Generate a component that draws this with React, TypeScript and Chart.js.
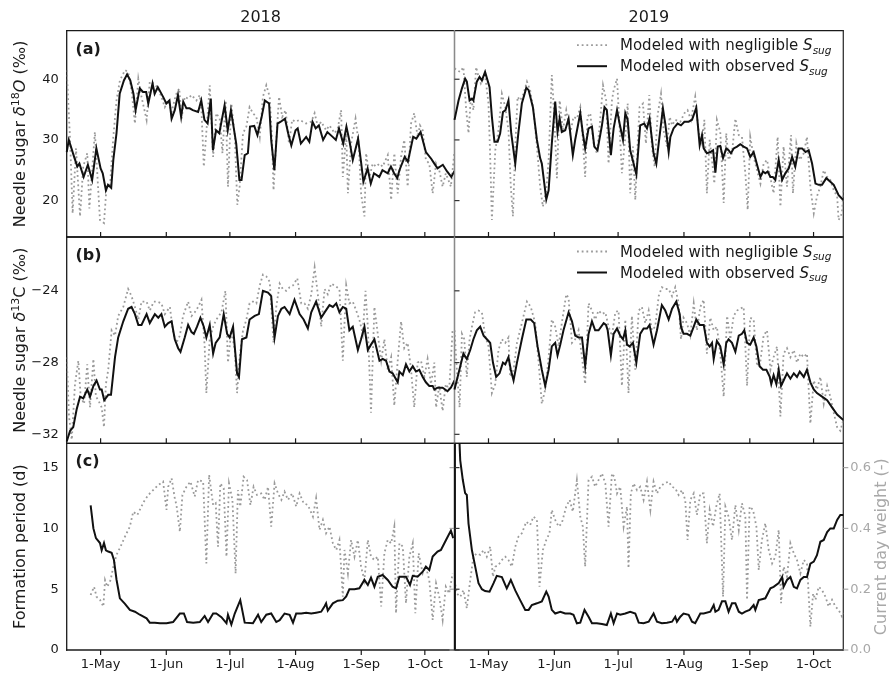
import React, { useEffect, useRef } from 'react';
import { Chart, registerables } from 'chart.js';

Chart.register(...registerables);

const FONT = "'DejaVu Sans', 'Noto Sans', sans-serif";

// ---------------- data (x = days after 15 April, same calendar for 2018 and 2019) ----------------
const monthTickDays = [16, 47, 77, 108, 139, 169];
const monthTickLabels = ['1-May', '1-Jun', '1-Jul', '1-Aug', '1-Sep', '1-Oct'];
const d18OTicks = [20, 30, 40];
const d13CTicks = [-32, -28, -24];
const formationTicks = [0, 5, 10, 15];
const weightTicks = [0, 0.2, 0.4, 0.6];
const yearLabels = ['2018', '2019'];
const panelLetters = ['(a)', '(b)', '(c)'];
const legendNegligible = 'Modeled with negligible ';
const legendObserved = 'Modeled with observed ';

const d18OObserved2018 = [[0,28.0],[1,30.0],[3.5,27.2],[5,25.6],[6,26.1],[8,23.9],[10,25.9],[12,23.4],[14,28.6],[16,25.3],[17,24.5],[18.5,21.7],[19.5,22.6],[21,22.1],[22,26.7],[23.5,31.1],[25,37.6],[27,39.8],[28.5,40.8],[30,39.8],[31.5,37.6],[32.5,34.9],[34.5,38.5],[36,37.9],[37.5,37.9],[38.5,36.0],[40.5,39.3],[41.5,37.6],[43,38.7],[45.5,37.1],[47,36.0],[48.5,36.5],[49.5,33.5],[51,34.9],[52.5,37.4],[54,33.8],[55,36.3],[56.5,35.2],[58,35.2],[59.5,34.9],[62,34.6],[63.5,36.5],[65,33.3],[66.5,32.7],[68,36.8],[69,28.3],[70.5,31.6],[72,31.1],[74.5,35.7],[76,31.6],[77.5,34.9],[80,29.4],[81.5,23.4],[82.5,23.4],[84,27.5],[85.5,27.8],[86.5,32.2],[88.5,32.3],[90,30.8],[92,33.8],[93.5,36.5],[95.5,36.0],[96.5,30.0],[98,25.0],[99.5,32.7],[101,33.0],[103,33.5],[104.5,31.1],[106,29.1],[108,31.6],[109,31.9],[110.5,29.4],[113,30.5],[114.5,29.7],[116,33.0],[117.5,31.9],[119,32.4],[121,30.0],[123,31.3],[125.5,30.5],[127,30.0],[128.5,31.9],[130.5,29.4],[132,32.2],[133.5,29.7],[135,26.7],[137.5,30.2],[139,26.1],[140,23.1],[142,25.3],[143.5,22.8],[145,24.5],[147.5,23.9],[149,25.0],[151.5,24.5],[153,25.6],[154.5,24.5],[156,23.7],[157,25.0],[159.5,27.2],[161,26.4],[163.5,30.5],[165,30.2],[167,31.3],[169.5,28.0],[172,26.9],[173.5,26.1],[175,25.3],[177.5,25.9],[179.5,24.8],[181.5,23.9],[183,24.9]];
const d18ONegligible2018 = [[0,41.5],[1.6,30],[2.8,17.9],[4.4,28.6],[6.3,17.4],[7.8,25.6],[9.7,27.8],[10.7,18.7],[13.3,31.3],[15.7,16.8],[17.6,16.3],[18.8,22.3],[20.4,22.3],[22,30.5],[23.5,36.5],[25.1,39.8],[27.5,41.5],[29,41.2],[30.6,38.2],[32.2,32.7],[33.8,40.1],[35.3,37.1],[37.7,33.3],[39.2,39.6],[41.1,39.3],[42.7,38.7],[44.7,37.1],[46.3,35.4],[47.9,36.5],[49.5,34.6],[51.5,37.4],[53.1,38.5],[54.2,33.5],[55.7,37.1],[57.3,36.8],[58.9,37.4],[61.2,36.5],[62.8,37.4],[63.6,34.9],[64.7,25.6],[66.2,32.7],[67.5,39.0],[69.1,27.2],[70.6,34.4],[72.2,33.5],[73.5,27.8],[75,36.5],[76.1,22.3],[77.7,36.0],[79.3,30.8],[80.5,19.3],[81.6,22.3],[83.2,31.1],[84.8,32.2],[86.3,35.4],[87.9,34.4],[89.5,33.8],[91.1,30.5],[92.6,37.1],[94.2,39.0],[95.8,37.1],[96.9,30.0],[97.6,21.7],[98.9,30.0],[100.2,37.1],[101.7,33.8],[103.3,34.9],[104.9,29.4],[106.4,33.3],[108,33.0],[109.9,33.3],[111.5,33.0],[113,32.7],[115.4,33.0],[117,34.4],[118.5,32.2],[120.1,33.0],[122.4,31.6],[124,32.4],[126.4,31.1],[127.9,31.9],[129.5,34.9],[130.3,23.9],[131.9,31.1],[132.7,21.2],[134.2,29.4],[136.3,33.5],[137.8,29.4],[138.9,21.2],[140.5,17.4],[141.3,27.8],[142.9,23.9],[144.4,26.1],[146,25.6],[147.6,26.1],[149.1,25.6],[151.5,27.5],[153.1,20.1],[154.6,27.8],[156.2,21.2],[157.8,27.2],[159.3,30.0],[160.9,22.3],[162.5,32.7],[164,34.4],[165.6,30.5],[166.7,32.4],[168,31.6],[169.5,26.7],[171.1,26.1],[172.7,21.2],[174.3,26.1],[175.8,25.0],[177.4,22.3],[178.9,24.5],[181.3,22.3],[182.9,27.8]];
const d18OObserved2019 = [[0,33.3],[1.9,36.5],[3.5,38.5],[5,40.1],[5.8,39.6],[7.1,36.5],[8.2,36.8],[8.9,36.5],[10.5,39.6],[11.8,40.4],[12.9,39.8],[14.4,41.2],[16.5,38.7],[17.6,33.8],[18.8,29.7],[20.3,29.7],[21.5,31.1],[22.8,34.6],[24,34.9],[25.4,36.5],[26.7,31.1],[28.6,26.1],[30.1,31.3],[31.7,36.0],[33.8,38.6],[34.9,38.2],[36.9,35.4],[38.8,30.0],[40.3,27.0],[41.1,26.1],[43.2,20.2],[44.3,21.7],[45.8,29.4],[47.4,36.3],[48.5,31.3],[49.5,33.5],[50.5,31.3],[52.1,31.6],[53.7,33.5],[55.7,27.5],[56.8,30.0],[59.2,34.4],[60.4,31.1],[61.5,28.6],[63.1,31.9],[64.7,32.2],[65.8,28.9],[67.3,28.3],[69.4,32.4],[70.6,35.4],[71.7,34.9],[73.6,27.5],[74.9,31.9],[76.5,34.9],[77.7,32.7],[79.3,30.0],[80.4,34.4],[81.5,33.3],[82.7,28.3],[84.3,26.1],[85.6,24.3],[87.4,32.4],[89.3,32.7],[90.6,31.9],[91.8,33.5],[93.7,27.8],[95,26.1],[96.1,29.4],[98.1,35.2],[99.2,32.7],[100.8,28.0],[101.6,30.5],[103.1,31.9],[105,32.7],[106.6,32.4],[108.2,33.0],[110.2,33.0],[111.8,33.3],[113.8,35.3],[115.4,29.1],[116.5,30.8],[117.3,28.6],[118.8,27.8],[120.4,28.0],[121.7,28.3],[122.8,24.6],[123.9,28.9],[125.1,29.0],[126.4,27.0],[127.9,28.6],[129,28.3],[130.1,27.8],[131.4,28.6],[133,28.9],[134.5,29.3],[136.1,28.9],[137.7,28.6],[139.2,27.2],[140.8,28.0],[142.4,25.9],[144,23.9],[145.2,24.8],[146.3,24.5],[147.4,24.8],[148.7,23.9],[149.8,23.9],[151,23.4],[152.6,26.7],[154.2,23.4],[155.7,24.5],[157.3,25.3],[158.9,27.2],[160.4,25.6],[162,28.6],[163.6,28.6],[165.2,28.0],[166.7,28.3],[168.3,26.1],[169.9,22.8],[171.4,22.6],[173,22.6],[175,23.7],[176.9,23.1],[178.5,22.6],[180.8,20.9],[183,20.1]];
const d18ONegligible2019 = [[0,41.8],[1.1,41.5],[2.7,41.2],[4.2,42.0],[5.5,34.9],[6.6,31.1],[7.7,37.1],[8.9,34.9],[10.2,42.0],[11.3,40.4],[12.4,39.3],[14.4,40.7],[16,36.0],[16.8,27.2],[17.6,16.8],[19.2,28.3],[20.7,31.6],[22.3,37.6],[23.9,35.4],[25.4,31.6],[26.5,22.3],[27.5,17.4],[28.6,28.9],[29.7,37.1],[30.9,36.5],[32.5,37.6],[34.1,39.6],[35.6,38.2],[37.2,34.9],[38.8,28.9],[40.3,22.3],[41.6,19.0],[43.2,21.7],[44.3,26.7],[45.8,40.7],[46.9,34.4],[48.2,23.7],[49.5,36.5],[51,31.6],[52.6,34.9],[54.5,31.1],[56,33.8],[57.6,33.5],[59.2,35.4],[60.4,30.0],[61.5,23.9],[62.6,33.8],[63.9,34.4],[65.5,29.4],[67,27.8],[68.3,32.2],[69.9,39.0],[71.4,36.5],[72.5,26.1],[74.1,36.5],[74.9,38.2],[76.5,40.1],[78,30.0],[78.8,24.5],[80.4,30.5],[81.5,36.0],[82.7,21.2],[84,28.9],[85.1,20.1],[86.2,29.4],[87.1,35.4],[88.7,36.0],[90.1,29.4],[91.7,37.4],[92.9,28.9],[94.2,25.6],[95.6,34.1],[97.2,37.6],[98.4,31.6],[100,28.9],[101.3,33.8],[102.4,32.4],[103.9,33.3],[106.3,33.0],[108.2,34.4],[109.7,34.9],[111.3,33.3],[113.3,37.1],[114.9,31.3],[116.5,29.4],[117.6,33.3],[118.8,21.2],[120.1,30.0],[121.2,26.7],[122.3,22.8],[123.5,33.3],[125.1,31.3],[126.7,19.6],[127.9,31.1],[129,26.7],[130.6,27.8],[132.2,33.5],[133.8,30.8],[135.3,30.5],[136.9,24.5],[138,18.5],[139.2,30.5],[140.8,27.2],[142.4,25.0],[144,22.8],[145.5,26.1],[147.1,26.7],[148.7,23.7],[150.2,21.2],[152.1,30.5],[153.4,19.0],[154.9,28.9],[156.5,22.3],[158.4,30.8],[159.3,21.2],[160.9,29.4],[162.5,26.7],[164.4,27.8],[165.9,30.5],[167.5,22.3],[169.1,17.9],[170.6,20.7],[172.2,22.3],[173.8,25.0],[175.4,23.9],[176.9,23.4],[178.5,21.7],[180.1,20.7],[180.8,16.8],[182.4,17.9],[183,21.7]];

const d13CObserved2018 = [[0,-32.4],[1.6,-31.8],[3.1,-31.6],[4.7,-30.6],[6.3,-29.9],[7.8,-30.0],[9.7,-29.5],[11,-29.9],[12.6,-29.3],[14.1,-29.0],[15.7,-29.5],[16.5,-29.5],[17.7,-30.1],[19.6,-29.8],[20.9,-29.8],[22.8,-27.7],[24.3,-26.6],[26.7,-25.7],[29,-25.0],[30.6,-24.9],[32.2,-25.3],[33.8,-25.9],[35.3,-25.9],[37.7,-25.3],[39.2,-25.8],[41.6,-25.3],[43.2,-25.5],[44.7,-25.3],[46.3,-26.0],[47.9,-25.8],[49.5,-25.7],[51,-26.7],[52.6,-27.2],[53.7,-27.4],[55.7,-26.6],[57.3,-25.9],[58.9,-26.3],[60,-26.4],[61.5,-26.0],[63.1,-25.5],[64.7,-26.0],[65.9,-26.6],[67.5,-25.9],[69.1,-27.5],[70.3,-26.9],[72.2,-26.6],[74.1,-25.3],[75.7,-26.4],[76.9,-26.6],[78.5,-26.0],[80.4,-28.6],[81.3,-28.8],[82.7,-26.7],[84.8,-26.6],[86.3,-25.6],[88.7,-25.4],[90.7,-25.3],[92.6,-24.0],[95,-24.1],[96.5,-24.3],[98.1,-26.6],[99.7,-25.4],[101.3,-25.0],[102.8,-24.9],[105.2,-25.3],[107.5,-24.5],[109.9,-25.3],[111.8,-25.6],[113.8,-26.1],[115.4,-25.2],[117.7,-24.6],[120.1,-25.5],[121.7,-25.2],[124,-24.8],[125.6,-24.9],[127.2,-24.7],[128.7,-25.2],[130.3,-24.9],[131.9,-25.0],[133.4,-26.2],[135,-26.0],[137.4,-27.3],[138.9,-26.7],[140.5,-26.0],[142.1,-27.3],[143.6,-27.0],[145.2,-26.7],[147.6,-27.9],[149.1,-27.8],[150.7,-27.9],[152.3,-28.5],[153.8,-28.6],[156.2,-29.1],[157,-28.5],[158.6,-28.7],[160.1,-28.1],[161.7,-28.5],[163.3,-28.2],[164.8,-28.5],[166.4,-28.4],[168,-28.8],[169.5,-29.1],[171.1,-29.3],[172.7,-29.3],[173.5,-29.5],[175,-29.4],[177.4,-29.4],[179.7,-29.6],[181.3,-29.4],[183,-29.0]];
const d13CNegligible2018 = [[0,-27.7],[1.1,-31.0],[2.4,-32.3],[3.9,-29.2],[5.5,-27.9],[6.6,-29.9],[8.2,-30.3],[9.7,-28.1],[11,-30.5],[12.6,-27.8],[13.8,-29.9],[14.9,-30.1],[16.5,-30.5],[17.6,-31.6],[18.5,-29.2],[19.6,-28.4],[21.2,-26.2],[22.8,-26.5],[24.3,-25.4],[26.7,-24.9],[29,-23.9],[30.6,-24.3],[32.2,-24.9],[33.8,-25.6],[35.3,-24.6],[37.7,-24.6],[39.2,-25.1],[41.1,-24.6],[42.7,-24.6],[44.7,-24.7],[46.3,-25.3],[48.7,-24.9],[50.2,-26.3],[51.8,-26.9],[53.4,-26.5],[54.9,-25.4],[57.3,-24.6],[58.9,-25.4],[60.4,-25.2],[62,-24.9],[63.6,-24.5],[65.1,-27.1],[65.9,-29.7],[67.5,-26.7],[69.1,-26.0],[70.6,-25.6],[73,-25.2],[74.9,-24.0],[76.1,-28.0],[77.7,-26.2],[79.3,-27.3],[80.4,-29.7],[81.6,-27.7],[83.2,-26.2],[84.8,-25.6],[86.3,-24.7],[87.9,-24.6],[89.5,-24.7],[91.1,-23.7],[92.6,-23.1],[94.2,-23.2],[95.8,-23.5],[97.6,-26.9],[98.9,-24.9],[100.5,-23.6],[102,-23.9],[103.6,-24.0],[105.2,-23.8],[106.8,-23.7],[108.8,-23.3],[110.7,-24.7],[112.2,-24.7],[113.8,-25.0],[115.4,-24.2],[117,-22.7],[118.5,-24.2],[120.1,-26.0],[121.7,-23.9],[123.2,-24.2],[124.8,-23.6],[126.4,-23.7],[128.7,-23.9],[130.3,-27.9],[131.9,-23.7],[133.4,-24.7],[135,-24.6],[136.6,-25.1],[138.1,-25.6],[139.7,-26.4],[141,-24.0],[142.1,-26.0],[143.6,-30.8],[145.2,-24.9],[146.8,-26.4],[148.4,-27.9],[149.9,-26.7],[151.5,-28.4],[153.1,-27.7],[154.6,-30.4],[156.2,-27.9],[157.8,-25.7],[159.3,-27.2],[160.9,-26.9],[162.5,-28.4],[164,-30.5],[165.6,-28.0],[167.2,-27.9],[168.8,-28.8],[170.3,-27.8],[171.9,-29.2],[173.5,-28.0],[174.3,-30.5],[175.8,-29.3],[177.4,-30.7],[178.9,-29.2],[180.5,-29.5],[182.1,-26.2]];
const d13CObserved2019 = [[0,-29.5],[1.9,-28.6],[4.2,-27.5],[5.8,-27.8],[7.4,-27.3],[8.9,-26.7],[10.5,-26.2],[12.1,-26.0],[13.7,-26.5],[16,-26.8],[16.8,-26.9],[18.1,-28.0],[19.6,-28.8],[21.2,-28.6],[22.8,-28.0],[23.9,-28.1],[25.4,-27.7],[26.5,-28.4],[27.8,-29.0],[29.4,-28.0],[31.7,-26.7],[33.8,-25.6],[35.9,-25.6],[37.5,-25.8],[39.1,-27.1],[41.1,-28.4],[42.7,-29.3],[44.3,-28.4],[45.8,-27.1],[47.4,-26.9],[48.5,-27.6],[49.8,-27.0],[51.3,-26.2],[53.7,-25.2],[55.3,-25.7],[56.8,-26.5],[58.4,-26.6],[60,-26.6],[61.5,-28.2],[63.1,-26.4],[64.7,-25.7],[66.2,-26.2],[67.8,-26.2],[70.2,-25.8],[71.3,-25.9],[72.1,-26.2],[73.6,-27.6],[74.9,-26.4],[76.5,-26.1],[78,-26.5],[79.3,-26.7],[80.4,-26.2],[81.2,-27.0],[82.4,-27.1],[84,-26.9],[85.6,-28.0],[87.4,-26.4],[89,-26.1],[90.6,-26.1],[91.8,-25.9],[93.7,-27.0],[95.3,-26.2],[97.6,-24.8],[99.2,-25.1],[100.8,-25.6],[102.4,-25.0],[104.4,-24.6],[106,-25.3],[106.6,-26.0],[107.8,-26.4],[109.4,-26.4],[111,-26.5],[112.6,-26.0],[113.8,-25.6],[115.4,-25.9],[117.3,-25.9],[118.8,-26.9],[120.1,-27.1],[121.2,-26.9],[122,-27.8],[123.5,-26.8],[125.1,-27.1],[126.7,-28.1],[127.9,-26.9],[129,-26.7],[130.6,-26.9],[132.2,-27.4],[133.8,-26.5],[135.3,-26.4],[136.4,-26.2],[137.7,-26.9],[139.2,-27.0],[140.8,-26.6],[142.1,-27.1],[143.6,-28.2],[145.2,-28.4],[146.8,-28.4],[148.4,-28.8],[149.1,-29.2],[150.2,-28.7],[151.5,-29.2],[152.6,-28.4],[153.7,-29.3],[154.9,-29.0],[156.5,-28.6],[158.1,-28.9],[159.7,-28.6],[161.2,-28.8],[162.5,-28.5],[164.4,-28.8],[165.9,-28.4],[167.5,-29.1],[169.1,-29.5],[170.6,-29.7],[173,-29.9],[175.4,-30.1],[177.7,-30.5],[180.1,-30.9],[183,-31.2]];
const d13CNegligible2019 = [[0,-26.2],[1.1,-28.4],[2.4,-30.5],[3.5,-26.4],[4.6,-26.7],[5.8,-28.8],[7.1,-26.7],[8.2,-26.0],[9.7,-25.2],[11.3,-25.1],[12.9,-25.2],[14.4,-26.5],[16,-27.1],[17.6,-29.7],[19.2,-29.2],[20.7,-27.3],[22.3,-26.7],[23.9,-26.9],[25.4,-26.6],[26.2,-28.8],[27.8,-28.4],[29.4,-26.9],[31.7,-25.8],[34.1,-24.6],[35.9,-24.9],[38,-25.8],[39.6,-28.0],[41.1,-30.3],[42.7,-29.5],[44.3,-27.7],[45.8,-25.6],[47.4,-26.0],[49,-27.1],[50.5,-25.8],[52.6,-24.2],[53.7,-24.4],[55.3,-26.9],[56.8,-26.7],[58.4,-26.2],[60,-27.7],[61.5,-29.2],[63.1,-24.7],[64.7,-25.1],[66.2,-25.6],[67.8,-25.1],[69.4,-25.3],[71,-25.2],[72.5,-26.0],[74.1,-26.5],[75.7,-25.2],[77.2,-25.1],[78.8,-29.3],[80.4,-25.6],[81.9,-29.7],[83.5,-25.4],[85.1,-28.4],[86.7,-25.1],[88.2,-24.9],[89.8,-25.8],[91.4,-25.1],[92.9,-26.2],[94.5,-26.0],[96.1,-24.3],[97.6,-23.8],[99.2,-23.9],[100.8,-23.9],[102.4,-24.3],[103.9,-23.8],[105.5,-24.7],[106.6,-26.7],[107.8,-25.5],[109.4,-25.8],[111,-26.5],[112.6,-24.7],[114.1,-26.2],[115.7,-24.9],[117.3,-24.5],[118.8,-27.5],[120.4,-25.5],[122,-26.2],[123.5,-26.0],[125.1,-27.5],[126.7,-29.9],[128.3,-25.4],[129.8,-26.7],[131.4,-25.4],[133,-25.1],[134.5,-25.0],[136.1,-24.9],[137.7,-29.3],[139.2,-25.5],[140.8,-25.6],[142.4,-28.2],[144,-27.9],[145.5,-26.5],[147.1,-26.2],[148.7,-28.4],[150.2,-27.7],[151.8,-27.1],[153.4,-31.0],[154.9,-27.5],[156.5,-27.2],[158.1,-27.7],[159.7,-27.3],[161.2,-28.0],[162.8,-27.5],[164.4,-27.7],[165.9,-27.5],[167.5,-31.4],[169.1,-29.0],[170.6,-29.5],[172.2,-28.8],[173.8,-30.3],[175.4,-29.3],[176.9,-29.9],[178.5,-30.8],[180.1,-31.6],[181.6,-31.8],[183,-31.2]];

const formationPeriod2018 = [[11.3,11.9],[12.6,10.0],[13.8,9.2],[15.7,8.8],[16.5,8.2],[17.6,8.8],[18.5,8.2],[19.6,8.1],[21.2,8.0],[22.3,7.4],[23.5,5.8],[25.1,4.25],[27.5,3.8],[29.8,3.3],[32.2,3.15],[34.5,2.9],[37.7,2.6],[39.2,2.25],[41.6,2.25],[44,2.2],[47.1,2.2],[50.2,2.3],[53.4,3.0],[55.3,3.0],[56.8,2.3],[59.7,2.25],[62.8,2.3],[65.1,2.8],[66.7,2.3],[69.1,3.0],[70.6,3.0],[73,2.7],[75.4,2.2],[76.1,2.9],[77.7,2.1],[79.3,3.0],[81.9,4.1],[84,2.25],[87.9,2.2],[90.3,2.9],[91.8,2.3],[94.2,2.9],[96.5,3.0],[98.9,2.3],[100.5,2.45],[102.8,3.0],[105.2,2.9],[106.8,2.25],[108.3,3.0],[110.7,3.0],[113,3.07],[115.4,3.0],[117.7,3.07],[120.1,3.15],[121.7,3.6],[122.4,3.84],[123.2,3.24],[125.6,3.84],[127.9,4.06],[130.3,4.1],[131.9,4.4],[133.4,5.0],[135.8,5.0],[138.1,5.07],[140.5,5.76],[142.1,5.35],[143.6,5.95],[145.2,5.2],[146.8,6.03],[149.1,6.17],[151.5,5.76],[153.8,5.2],[155.4,5.07],[157,6.03],[158.6,6.03],[160.1,6.03],[162,5.35],[163.3,6.1],[165.6,6.03],[168,6.44],[169.5,6.86],[171.1,6.58],[172.7,7.68],[175,8.09],[176.6,8.23],[179,9.05],[181.3,9.82],[182.4,9.2]];
const currentDayWeight2018 = [[11.3,0.181],[12.9,0.208],[14.1,0.175],[15.7,0.165],[17.3,0.143],[18.1,0.230],[19.2,0.208],[20.7,0.230],[22,0.274],[23.5,0.313],[25.4,0.340],[27.5,0.373],[29.8,0.406],[31.4,0.455],[33.3,0.444],[34.5,0.461],[36.4,0.488],[38.5,0.510],[40.8,0.526],[43.2,0.543],[45.5,0.554],[47.1,0.461],[47.9,0.537],[49.5,0.565],[51,0.499],[51.8,0.477],[53.4,0.389],[54.6,0.510],[56.5,0.537],[58.4,0.554],[60.4,0.505],[62,0.559],[64.4,0.554],[65.9,0.285],[67.2,0.576],[69.1,0.477],[70.3,0.483],[71.4,0.340],[72.5,0.548],[74.1,0.532],[75.4,0.307],[76.6,0.548],[78.2,0.494],[79.7,0.252],[80.8,0.526],[81.9,0.472],[83.5,0.570],[85.1,0.559],[86.7,0.477],[88.2,0.537],[89.8,0.510],[91.8,0.515],[93.4,0.494],[95,0.537],[96.5,0.406],[98.1,0.548],[99.7,0.515],[101.3,0.494],[102.8,0.521],[104.4,0.494],[106.4,0.515],[108.3,0.472],[109.9,0.515],[111.8,0.483],[113.8,0.477],[116.2,0.439],[117.7,0.499],[119.3,0.395],[120.9,0.428],[122.4,0.384],[124,0.406],[125.6,0.351],[127.2,0.329],[128.7,0.362],[130.3,0.175],[131.1,0.329],[132.7,0.252],[134.2,0.362],[135.8,0.307],[137.4,0.362],[138.9,0.274],[140.5,0.230],[142.1,0.362],[143.6,0.307],[145.2,0.296],[146.8,0.307],[148.4,0.143],[149.9,0.318],[151.5,0.362],[153.1,0.351],[154.6,0.406],[155.4,0.121],[157,0.351],[158.6,0.340],[160.1,0.154],[161.7,0.307],[163.3,0.351],[164.5,0.121],[166.1,0.318],[168,0.252],[169.5,0.274],[171.1,0.230],[172.7,0.099],[174.3,0.219],[175.8,0.175],[177.4,0.099],[178.9,0.208],[180.5,0.186],[182.1,0.252]];
const formationPeriod2019 = [[0,0],[0.2,26],[2.7,15.6],[3.9,14.0],[5,12.9],[5.8,12.75],[6.6,10.4],[8.2,8.2],[9.7,6.9],[11.3,5.5],[12.9,5.0],[14.4,4.85],[16.5,4.8],[18.4,5.5],[19.9,6.1],[22.3,6.0],[24.6,5.07],[26.5,5.76],[28.6,4.9],[30.9,4.1],[33.3,3.3],[34.9,3.3],[36.4,3.7],[38.8,3.84],[41.1,4.0],[43.2,4.8],[44.3,4.4],[45.8,3.3],[47.4,3.0],[49.8,3.15],[52.1,3.0],[54.5,3.0],[56,2.9],[57.6,2.2],[59.2,2.25],[61.2,3.3],[63.1,2.74],[64.7,2.2],[67,2.2],[69.4,2.14],[71.7,2.05],[73.6,3.0],[74.9,2.2],[76.5,3.0],[78,2.9],[80.4,3.0],[82.7,3.15],[85.1,3.0],[86.7,2.25],[89,2.2],[91.4,2.33],[93.7,3.0],[95.3,2.33],[97.6,2.2],[100,2.25],[102.4,2.33],[103.9,2.74],[104.7,2.33],[106.3,2.74],[107.8,3.0],[110.2,2.9],[111.8,2.33],[113.3,2.2],[115.7,3.0],[117.3,3.0],[120.4,3.15],[122,3.7],[122.8,3.15],[124.3,3.3],[125.9,4.0],[127.5,4.0],[129,3.15],[130.6,3.84],[132.2,3.84],[133.8,3.15],[135.3,3.0],[136.9,3.15],[138.9,3.3],[140.8,3.7],[141.6,3.3],[143.2,4.1],[144.7,4.17],[146.3,4.25],[148.7,5.07],[150.2,5.2],[152.6,5.5],[154.2,6.0],[154.9,5.2],[156.5,5.76],[158.1,6.0],[159.7,5.2],[161.2,5.07],[162.8,5.76],[164.4,6.0],[165.9,6.0],[167.5,7.1],[169.1,7.27],[170.6,7.8],[172.2,8.9],[173.8,9.05],[175.4,9.7],[176.9,10.0],[178.5,10.0],[180.1,10.7],[181.6,11.1],[183.2,11.1]];
const currentDayWeight2019 = [[0,0.230],[1.1,0.186],[2.7,0.175],[4.2,0.197],[5.8,0.137],[7.4,0.230],[8.9,0.307],[10.5,0.318],[12.1,0.313],[13.7,0.329],[15.2,0.307],[16.8,0.340],[18.1,0.241],[19.2,0.274],[20.7,0.280],[22.3,0.296],[23.9,0.307],[25.4,0.296],[27,0.274],[28.6,0.340],[30.1,0.373],[31.7,0.384],[33.8,0.422],[35.6,0.411],[37.2,0.439],[38.8,0.428],[40,0.208],[41.6,0.329],[43.2,0.362],[44.7,0.384],[45.8,0.461],[47.4,0.428],[49,0.406],[50.5,0.417],[52.6,0.472],[54.2,0.494],[55.7,0.455],[57.6,0.559],[59.2,0.439],[60.4,0.406],[61.5,0.274],[63.1,0.559],[64.7,0.570],[66.2,0.537],[67.8,0.559],[69.4,0.581],[71,0.548],[72.5,0.406],[74.1,0.581],[75.2,0.570],[76.5,0.515],[78,0.537],[79.6,0.406],[81.2,0.472],[81.9,0.269],[83,0.515],[84.3,0.548],[85.9,0.526],[87.4,0.537],[89,0.494],[90.6,0.554],[92.2,0.461],[93.7,0.554],[95.3,0.515],[96.9,0.537],[98.7,0.548],[100.8,0.554],[102.4,0.537],[103.9,0.532],[105.5,0.510],[107.1,0.526],[108.6,0.494],[109.7,0.362],[111,0.494],[112.6,0.515],[114.1,0.444],[115.7,0.515],[117.3,0.515],[118.8,0.351],[120.1,0.461],[121.7,0.406],[123.2,0.472],[124.8,0.515],[126.4,0.175],[127.5,0.472],[129,0.439],[130.6,0.362],[132.2,0.477],[133.8,0.395],[135.3,0.483],[136.9,0.439],[137.7,0.165],[138.9,0.472],[140.5,0.461],[142.1,0.406],[143.2,0.263],[144.7,0.362],[146.3,0.417],[147.9,0.329],[149.5,0.285],[151,0.307],[152.6,0.395],[153.7,0.154],[154.9,0.274],[156.5,0.241],[158.1,0.351],[159.7,0.318],[161.2,0.296],[162.8,0.252],[164.4,0.296],[165.9,0.285],[167.5,0.077],[168.8,0.186],[169.9,0.165],[171.4,0.208],[173,0.197],[174.6,0.175],[176.1,0.143],[177.7,0.165],[179.3,0.143],[180.8,0.132],[182.4,0.110],[183.2,0.121]];

// ---------------- layout ----------------
const W = 891;
const H = 674;
const COLS = [{ l: 66.7, r: 454.5 }, { l: 454.5, r: 843.3 }];
const ROWS = [{ t: 30.7, b: 237 }, { t: 237, b: 443.3 }, { t: 443.3, b: 650 }];
const DARK = '#1a1a1a';
const SPINE_GREY = '#8a8a8a';
const LINE_GREY = '#9a9a9a';
const AXIS_GREY = '#a8a8a8';

type Seg = { t: string; font: string; dy?: number };

function drawRich(ctx: CanvasRenderingContext2D, segs: Seg[], x: number, y: number, rotate: boolean, align: 'center' | 'left', color: string) {
  ctx.save();
  ctx.translate(x, y);
  if (rotate) ctx.rotate(-Math.PI / 2);
  const widths = segs.map((s) => { ctx.font = s.font; return ctx.measureText(s.t).width; });
  const total = widths.reduce((p, c) => p + c, 0);
  let cx = align === 'center' ? -total / 2 : 0;
  ctx.textBaseline = 'alphabetic';
  ctx.textAlign = 'left';
  ctx.fillStyle = color;
  segs.forEach((s, i) => {
    ctx.font = s.font;
    ctx.fillText(s.t, cx, s.dy || 0);
    cx += widths[i];
  });
  ctx.restore();
}

const f = (size: number, style = '', weight = '') => `${style} ${weight} ${size}px ${FONT}`.trim();

const yTitles: Seg[][] = [
  [{ t: 'Needle sugar ', font: f(16) }, { t: 'δ', font: f(16, 'italic') }, { t: '18', font: f(11), dy: -6.5 }, { t: 'O', font: f(16, 'italic') }, { t: ' (‰)', font: f(16) }],
  [{ t: 'Needle sugar ', font: f(16) }, { t: 'δ', font: f(16, 'italic') }, { t: '13', font: f(11), dy: -6.5 }, { t: 'C', font: f(16) }, { t: ' (‰)', font: f(16) }],
  [{ t: 'Formation period (d)', font: f(16) }],
];

function makeDeco(spec: any) {
  const isC = spec.row === 2;
  const line = (ctx: CanvasRenderingContext2D, x1: number, y1: number, x2: number, y2: number, color: string, w = 1.3) => {
    ctx.strokeStyle = color;
    ctx.lineWidth = w;
    ctx.beginPath();
    ctx.moveTo(x1, y1);
    ctx.lineTo(x2, y2);
    ctx.stroke();
  };
  return {
    id: 'deco',
    beforeDatasetsDraw(chart: any) {
      const ctx = chart.ctx;
      const a = chart.chartArea;
      ctx.save();
      ctx.lineCap = 'square';
      line(ctx, a.left, a.top, a.right, a.top, DARK);
      line(ctx, a.left, a.bottom, a.right, a.bottom, DARK);
      line(ctx, a.left, a.top, a.left, a.bottom, spec.col === 0 ? DARK : SPINE_GREY);
      line(ctx, a.right, a.top, a.right, a.bottom, spec.col === 0 ? SPINE_GREY : '#333333');
      ctx.restore();
    },
    afterDatasetsDraw(chart: any) {
      const ctx = chart.ctx;
      const a = chart.chartArea;
      const xs = chart.scales.x;
      const ys = chart.scales.y;
      ctx.save();
      ctx.lineCap = 'butt';
      monthTickDays.forEach((v) => {
        const px = xs.getPixelForValue(v);
        if (isC) line(ctx, px, a.bottom, px, a.bottom + 5, DARK, 1.2);
        else line(ctx, px, a.bottom, px, a.bottom - 5, DARK, 1.2);
      });
      spec.yTicks.forEach((v: number) => {
        const py = ys.getPixelForValue(v);
        if (spec.col === 1) line(ctx, a.left, py, a.left + 5, py, '#333333', 1.2);
      });
      if (isC) {
        const y1 = chart.scales.y1;
        weightTicks.forEach((v) => {
          const py = y1.getPixelForValue(v);
          if (spec.col === 0) line(ctx, a.right - 5, py, a.right, py, AXIS_GREY, 1.2);
          else line(ctx, a.right, py, a.right + 5, py, AXIS_GREY, 1.2);
        });
      }
      if (spec.row === 0) {
        ctx.font = f(16);
        ctx.fillStyle = DARK;
        ctx.textAlign = 'center';
        ctx.textBaseline = 'alphabetic';
        ctx.fillText(yearLabels[spec.col], (a.left + a.right) / 2, 21.5);
      }
      if (spec.col === 0) {
        ctx.font = f(16, '', 'bold');
        ctx.fillStyle = DARK;
        ctx.textAlign = 'left';
        ctx.textBaseline = 'alphabetic';
        ctx.fillText(panelLetters[spec.row], a.left + 8.8, a.top + 23);
        drawRich(ctx, yTitles[spec.row], 25, (a.top + a.bottom) / 2, true, 'center', DARK);
      }
      if (isC && spec.col === 1) {
        drawRich(ctx, [{ t: 'Current day weight (-)', font: f(16) }], 886, (a.top + a.bottom) / 2, true, 'center', AXIS_GREY);
      }
      if (spec.col === 1 && !isC) {
        const x0 = a.right - 266.3;
        const x1 = a.right - 236.3;
        const tx = a.right - 223.3;
        const rows = [
          { dashed: true, text: legendNegligible, base: a.top + 19.5 },
          { dashed: false, text: legendObserved, base: a.top + 40.5 },
        ];
        rows.forEach((r) => {
          ctx.save();
          if (r.dashed) {
            ctx.setLineDash([1.8, 2.9]);
            line(ctx, x0, r.base - 5, x1, r.base - 5, LINE_GREY, 1.8);
          } else {
            line(ctx, x0, r.base - 5, x1, r.base - 5, '#111111', 2);
          }
          ctx.restore();
          drawRich(ctx, [
            { t: r.text, font: f(15) },
            { t: 'S', font: f(15, 'italic') },
            { t: 'sug', font: f(10.5, 'italic'), dy: 3.5 },
          ], tx, r.base, false, 'left', DARK);
        });
      }
      ctx.restore();
    },
  };
}

const toXY = (arr: number[][]) => arr.map(([x, y]) => ({ x, y }));
const minusFmt = (v: number) => (v < 0 ? '\u2212' + Math.abs(v) : String(v));

function buildConfig(spec: any) {
  const c = COLS[spec.col];
  const r = ROWS[spec.row];
  const isC = spec.row === 2;
  const tickFont = { family: FONT, size: 13 };
  const scales: any = {
    x: {
      type: 'linear',
      position: 'bottom',
      min: 0,
      max: 183,
      display: isC,
      grid: { display: false, drawTicks: false },
      border: { display: false },
      ticks: {
        font: tickFont,
        color: DARK,
        padding: 7,
        maxRotation: 0,
        autoSkip: false,
        callback: (v: number) => {
          const i = monthTickDays.indexOf(v);
          return i >= 0 ? monthTickLabels[i] : '';
        },
      },
      afterBuildTicks: (s: any) => { s.ticks = monthTickDays.map((v) => ({ value: v })); },
      afterFit: (s: any) => { s.height = isC ? H - r.b : 0; },
    },
    y: {
      type: 'linear',
      position: 'left',
      min: spec.yMin,
      max: spec.yMax,
      display: spec.col === 0,
      grid: { display: false, drawTicks: false },
      border: { display: false },
      ticks: { font: tickFont, color: DARK, padding: 8, autoSkip: false, callback: (v: number) => minusFmt(v) },
      afterBuildTicks: (s: any) => { s.ticks = spec.yTicks.map((v: number) => ({ value: v })); },
      afterFit: (s: any) => { s.width = spec.col === 0 ? c.l : 0; },
    },
  };
  if (isC) {
    scales.y1 = {
      type: 'linear',
      position: 'right',
      min: 0,
      max: 0.68,
      display: spec.col === 1,
      grid: { display: false, drawTicks: false },
      border: { display: false },
      ticks: { font: tickFont, color: AXIS_GREY, padding: 7, autoSkip: false, callback: (v: number) => v.toFixed(1) },
      afterBuildTicks: (s: any) => { s.ticks = weightTicks.map((v) => ({ value: v })); },
      afterFit: (s: any) => { s.width = spec.col === 1 ? W - c.r : 0; },
    };
  }
  const rightPad = isC && spec.col === 1 ? 0 : W - c.r;
  return {
    type: 'line',
    data: {
      datasets: [
        {
          label: isC ? 'Formation period' : 'Modeled with observed S_sug',
          data: toXY(spec.solid),
          borderColor: '#111111',
          borderWidth: 2,
          pointRadius: 0,
          tension: 0,
          fill: false,
          yAxisID: 'y',
          order: 0,
          clip: { left: 1.5, top: 0, right: 0, bottom: 0 },
        },
        {
          label: isC ? 'Current day weight' : 'Modeled with negligible S_sug',
          data: toXY(spec.dotted),
          borderColor: LINE_GREY,
          borderWidth: 1.8,
          borderDash: [1.8, 2.9],
          pointRadius: 0,
          tension: 0,
          fill: false,
          yAxisID: isC ? 'y1' : 'y',
          order: 1,
          clip: 0,
        },
      ],
    },
    options: {
      animation: false,
      responsive: false,
      maintainAspectRatio: false,
      events: [],
      layout: {
        padding: {
          left: spec.col === 0 ? 0 : c.l,
          right: rightPad,
          top: r.t,
          bottom: isC ? 0 : H - r.b,
        },
      },
      plugins: { legend: { display: false }, tooltip: { enabled: false }, title: { display: false } },
      scales,
    },
    plugins: [makeDeco(spec)],
  };
}

const panels = [
  { row: 0, col: 0, solid: d18OObserved2018, dotted: d18ONegligible2018, yMin: 14, yMax: 48, yTicks: d18OTicks },
  { row: 0, col: 1, solid: d18OObserved2019, dotted: d18ONegligible2019, yMin: 14, yMax: 48, yTicks: d18OTicks },
  { row: 1, col: 0, solid: d13CObserved2018, dotted: d13CNegligible2018, yMin: -32.5, yMax: -21, yTicks: d13CTicks },
  { row: 1, col: 1, solid: d13CObserved2019, dotted: d13CNegligible2019, yMin: -32.5, yMax: -21, yTicks: d13CTicks },
  { row: 2, col: 0, solid: formationPeriod2018, dotted: currentDayWeight2018, yMin: 0, yMax: 17, yTicks: formationTicks },
  { row: 2, col: 1, solid: formationPeriod2019, dotted: currentDayWeight2019, yMin: 0, yMax: 17, yTicks: formationTicks },
];

function Panel({ spec }: { spec: any }) {
  const ref = useRef<HTMLCanvasElement | null>(null);
  useEffect(() => {
    if (!ref.current) return;
    const chart = new Chart(ref.current, buildConfig(spec) as any);
    return () => chart.destroy();
  }, [spec]);
  return (
    <canvas
      ref={ref}
      width={W}
      height={H}
      style={{ position: 'absolute', left: 0, top: 0, width: W, height: H }}
    />
  );
}

export default function App() {
  return (
    <div style={{ position: 'absolute', left: 0, top: 0, width: W, height: H, background: '#ffffff', overflow: 'hidden' }}>
      {panels.map((p, i) => (
        <Panel key={i} spec={p} />
      ))}
    </div>
  );
}
